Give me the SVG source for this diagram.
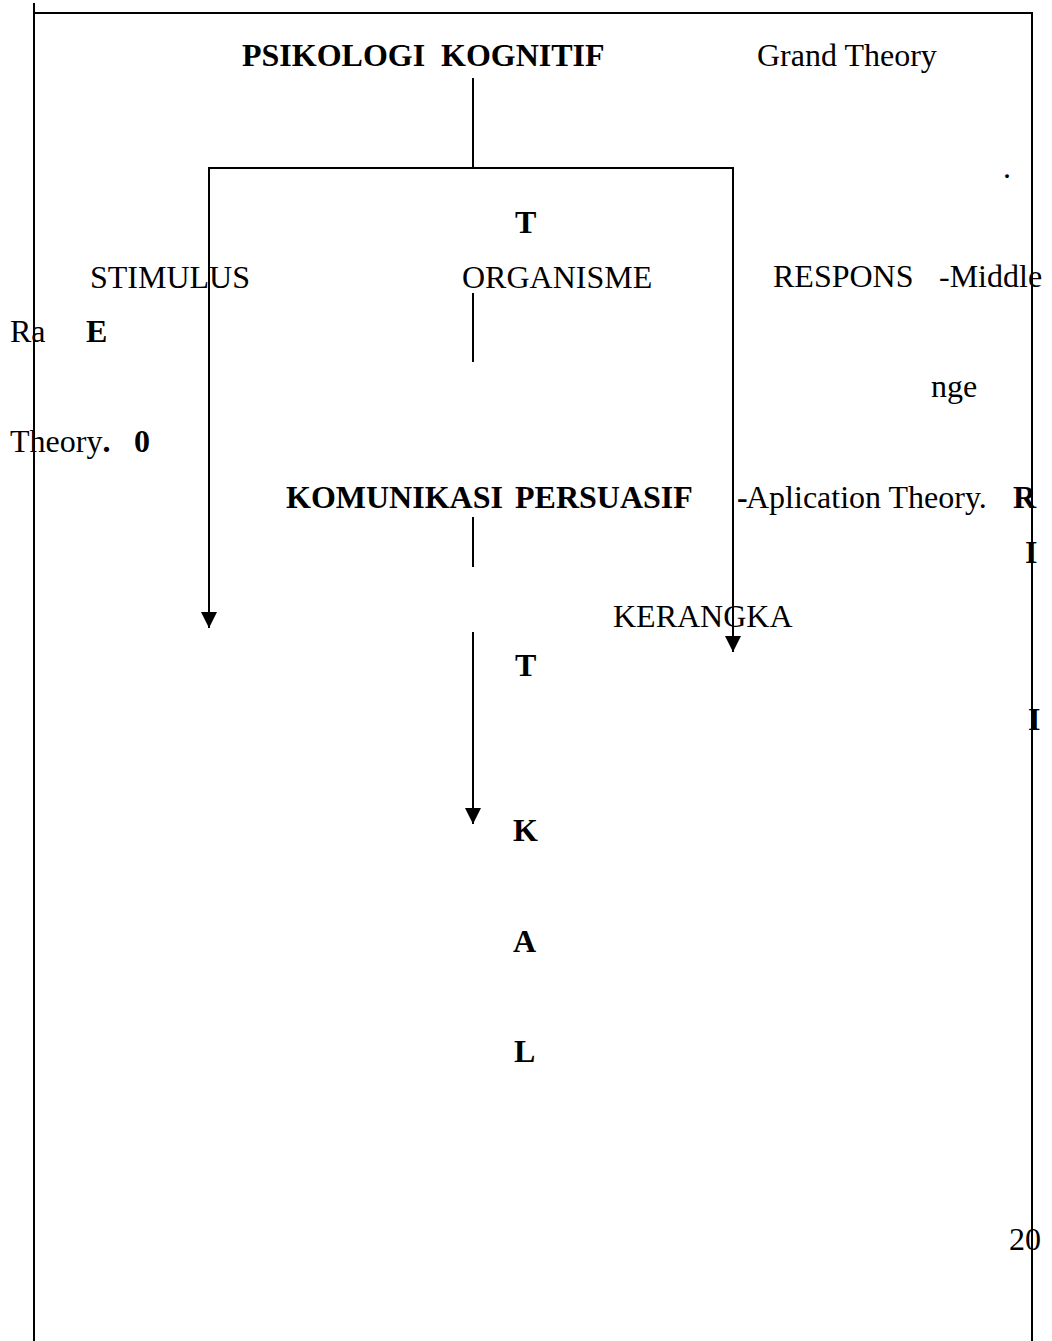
<svg xmlns="http://www.w3.org/2000/svg" width="1052" height="1341" viewBox="0 0 1052 1341">
<style>
.t{font-family:"Liberation Serif","Times New Roman",serif;font-size:32px;fill:#000}
.b{font-weight:bold}
.ln{stroke:#000;stroke-width:2;fill:none}
</style>
<defs>
<marker id="ah" markerUnits="userSpaceOnUse" markerWidth="16" markerHeight="16" refX="16" refY="8" orient="auto" viewBox="0 0 16 16">
<path d="M0,0 L16,8 L0,16 z" fill="#000"/>
</marker>
</defs>
<rect width="1052" height="1341" fill="#fff"/>
<g id="frame" class="ln">
<line x1="34" y1="3" x2="34" y2="1341"/>
<line x1="34" y1="13" x2="1033" y2="13"/>
<line x1="1032" y1="13" x2="1032" y2="1341"/>
</g>
<g id="connectors" class="ln">
<line x1="473" y1="78" x2="473" y2="168"/>
<line x1="208" y1="168" x2="734" y2="168"/>
<line x1="209" y1="168" x2="209" y2="628" marker-end="url(#ah)"/>
<line x1="733" y1="168" x2="733" y2="652" marker-end="url(#ah)"/>
<line x1="473" y1="293" x2="473" y2="362"/>
<line x1="473" y1="517" x2="473" y2="567"/>
<line x1="473" y1="632" x2="473" y2="824" marker-end="url(#ah)"/>
</g>
<g id="node-psikologi"><text class="t b" x="242" y="66">PSIKOLOGI</text><text class="t b" x="441" y="66">KOGNITIF</text></g>
<g id="node-grand"><text class="t" x="757" y="66">Grand Theory</text></g>
<g id="dot"><text class="t" x="1003" y="178">.</text></g>
<g id="letter-t1"><text class="t b" x="515" y="233">T</text></g>
<g id="node-stimulus"><text class="t" x="90" y="288">STIMULUS</text></g>
<g id="node-organisme"><text class="t" x="462" y="288">ORGANISME</text></g>
<g id="node-respons"><text class="t" x="773" y="287">RESPONS</text></g>
<g id="middle-range"><text class="t" x="939" y="287">-Middle</text><text class="t" x="10" y="342">Ra</text><text class="t" x="931" y="397">nge</text><text class="t" x="10" y="452">Theory<tspan class="b">.</tspan></text></g>
<g id="letter-e"><text class="t b" x="86" y="342">E</text></g>
<g id="letter-0"><text class="t b" x="134" y="452">0</text></g>
<g id="node-komunikasi"><text class="t b" x="286" y="508">KOMUNIKASI</text><text class="t b" x="515" y="508">PERSUASIF</text></g>
<g id="aplication"><text class="t b" x="737" y="508">-</text><text class="t" x="746" y="508">Aplication Theory.</text></g>
<g id="letter-r"><text class="t b" x="1013" y="508">R</text></g>
<g id="letter-i1"><text class="t b" x="1025" y="563">I</text></g>
<g id="node-kerangka"><text class="t" x="613" y="627">KERANGKA</text></g>
<g id="letter-t2"><text class="t b" x="515" y="676">T</text></g>
<g id="letter-i2"><text class="t b" x="1028" y="730">I</text></g>
<g id="letter-k"><text class="t b" x="513" y="841">K</text></g>
<g id="letter-a"><text class="t b" x="513" y="952">A</text></g>
<g id="letter-l"><text class="t b" x="514" y="1062">L</text></g>
<g id="page-number"><text class="t" x="1009" y="1250">20</text></g>
</svg>
